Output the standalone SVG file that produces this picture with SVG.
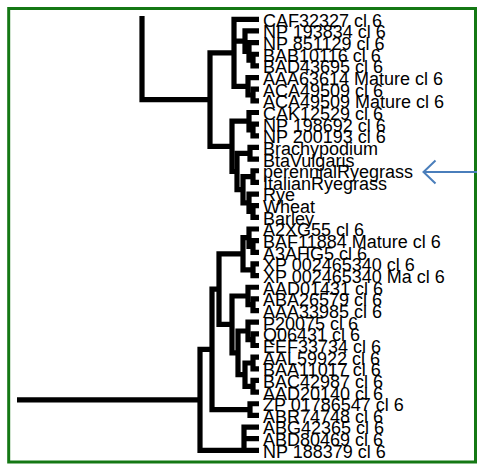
<svg xmlns="http://www.w3.org/2000/svg" width="477" height="464" viewBox="0 0 477 464">
<style>
.frame{fill:#fff;stroke:#147814;stroke-width:3}
.tree path{fill:none;stroke:#000;stroke-width:5.2;stroke-linecap:butt;stroke-linejoin:miter}
.lbl{font-family:"Liberation Sans",Arial,sans-serif;font-size:18px;fill:#000}
.arrow{fill:none;stroke:#4a7ebb;stroke-width:2}
</style>
<rect class="frame" x="8.7" y="8.5" width="466.8" height="453.5"/>
<g id="connectors" class="tree">
<path d="M142,16 V99.6 H210"/>
<path d="M234,52.8 H210 V146.4 H232"/>
<path d="M259,19.3 H234 V86.3 H248 M234,41.1 H245"/>
<path d="M259,30.95 H245 V51.3 H249"/>
<path d="M259,42.6 H249 V60.1 H253"/>
<path d="M259,54.25 H253 V65.9 H259"/>
<path d="M259,77.55 H248 V95 H253"/>
<path d="M259,89.2 H253 V100.85 H259"/>
<path d="M249,121.2 H232 V171.5 H237"/>
<path d="M259,112.5 H249 V130 H253"/>
<path d="M259,124.15 H253 V135.8 H259"/>
<path d="M250,153.3 H237 V189.7 H243"/>
<path d="M259,147.45 H250 V159.1 H259"/>
<path d="M253,176.6 H243 V202.8 H249"/>
<path d="M259,170.75 H253 V182.4 H259"/>
<path d="M259,194.05 H249 V211.5 H253"/>
<path d="M259,205.7 H253 V217.35 H259"/>
<path d="M17,399.8 H200"/>
<path d="M212,349.3 H200 V450.35 H244"/>
<path d="M219,289.1 H212 V409.6 H250"/>
<path d="M259,403.75 H250 V415.4 H259"/>
<path d="M259,427.05 H244 V450.35 H259 M244,438.7 H259"/>
<path d="M243,253.8 H219 V324.4 H232"/>
<path d="M249,237.7 H243 V269.8 H253"/>
<path d="M259,229 H249 V246.5 H253"/>
<path d="M259,240.65 H253 V252.3 H259"/>
<path d="M259,263.95 H253 V275.6 H259"/>
<path d="M248,296 H232 V352.8 H238"/>
<path d="M259,287.25 H248 V304.7 H253"/>
<path d="M259,298.9 H253 V310.55 H259"/>
<path d="M248,331 H238 V374.6 H245"/>
<path d="M259,322.2 H248 V339.7 H253"/>
<path d="M259,333.85 H253 V345.5 H259"/>
<path d="M253,363 H245 V386.3 H253"/>
<path d="M259,357.15 H253 V368.8 H259"/>
<path d="M259,380.45 H253 V392.1 H259"/>
</g>
<g id="leaf01"><text class="lbl" x="263" y="26.7">CAF32327 cl 6</text></g>
<g id="leaf02"><text class="lbl" x="263" y="38.35">NP 193834 cl 6</text></g>
<g id="leaf03"><text class="lbl" x="263" y="50">NP 851129 cl 6</text></g>
<g id="leaf04"><text class="lbl" x="263" y="61.65">BAB10116 cl 6</text></g>
<g id="leaf05"><text class="lbl" x="263" y="73.3">BAD43695 cl 6</text></g>
<g id="leaf06"><text class="lbl" x="263" y="84.95">AAA63614 Mature cl 6</text></g>
<g id="leaf07"><text class="lbl" x="263" y="96.6">ACA49509 cl 6</text></g>
<g id="leaf08"><text class="lbl" x="263" y="108.25">ACA49509 Mature cl 6</text></g>
<g id="leaf09"><text class="lbl" x="263" y="119.9">CAK12529 cl 6</text></g>
<g id="leaf10"><text class="lbl" x="263" y="131.55">NP 198692 cl 6</text></g>
<g id="leaf11"><text class="lbl" x="263" y="143.2">NP 200193 cl 6</text></g>
<g id="leaf12"><text class="lbl" x="263" y="154.85">Brachypodium</text></g>
<g id="leaf13"><text class="lbl" x="263" y="166.5">BtaVulgaris</text></g>
<g id="leaf14"><text class="lbl" x="263" y="178.15">perennialRyegrass</text></g>
<g id="leaf15"><text class="lbl" x="263" y="189.8">ItalianRyegrass</text></g>
<g id="leaf16"><text class="lbl" x="263" y="201.45">Rye</text></g>
<g id="leaf17"><text class="lbl" x="263" y="213.1">Wheat</text></g>
<g id="leaf18"><text class="lbl" x="263" y="224.75">Barley</text></g>
<g id="leaf19"><text class="lbl" x="263" y="236.4">A2XG55 cl 6</text></g>
<g id="leaf20"><text class="lbl" x="263" y="248.05">BAF11884 Mature cl 6</text></g>
<g id="leaf21"><text class="lbl" x="263" y="259.7">A3AHG5 cl 6</text></g>
<g id="leaf22"><text class="lbl" x="263" y="271.35">XP 002465340 cl 6</text></g>
<g id="leaf23"><text class="lbl" x="263" y="283">XP 002465340 Ma cl 6</text></g>
<g id="leaf24"><text class="lbl" x="263" y="294.65">AAD01431 cl 6</text></g>
<g id="leaf25"><text class="lbl" x="263" y="306.3">ABA26579 cl 6</text></g>
<g id="leaf26"><text class="lbl" x="263" y="317.95">AAA33985 cl 6</text></g>
<g id="leaf27"><text class="lbl" x="263" y="329.6">P20075 cl 6</text></g>
<g id="leaf28"><text class="lbl" x="263" y="341.25">Q06431 cl 6</text></g>
<g id="leaf29"><text class="lbl" x="263" y="352.9">EEF33734 cl 6</text></g>
<g id="leaf30"><text class="lbl" x="263" y="364.55">AAL59922 cl 6</text></g>
<g id="leaf31"><text class="lbl" x="263" y="376.2">BAA11017 cl 6</text></g>
<g id="leaf32"><text class="lbl" x="263" y="387.85">BAC42987 cl 6</text></g>
<g id="leaf33"><text class="lbl" x="263" y="399.5">AAD20140 cl 6</text></g>
<g id="leaf34"><text class="lbl" x="263" y="411.15">ZP 01786547 cl 6</text></g>
<g id="leaf35"><text class="lbl" x="263" y="422.8">ABR74748 cl 6</text></g>
<g id="leaf36"><text class="lbl" x="263" y="434.45">ABG42365 cl 6</text></g>
<g id="leaf37"><text class="lbl" x="263" y="446.1">ABD80469 cl 6</text></g>
<g id="leaf38"><text class="lbl" x="263" y="457.75">NP 188379 cl 6</text></g>
<g id="arrow">
<path class="arrow" d="M477,172 H423.5"/>
<path class="arrow" d="M435.5,160.5 L423.5,172 L435.5,183.5"/>
</g>
</svg>
